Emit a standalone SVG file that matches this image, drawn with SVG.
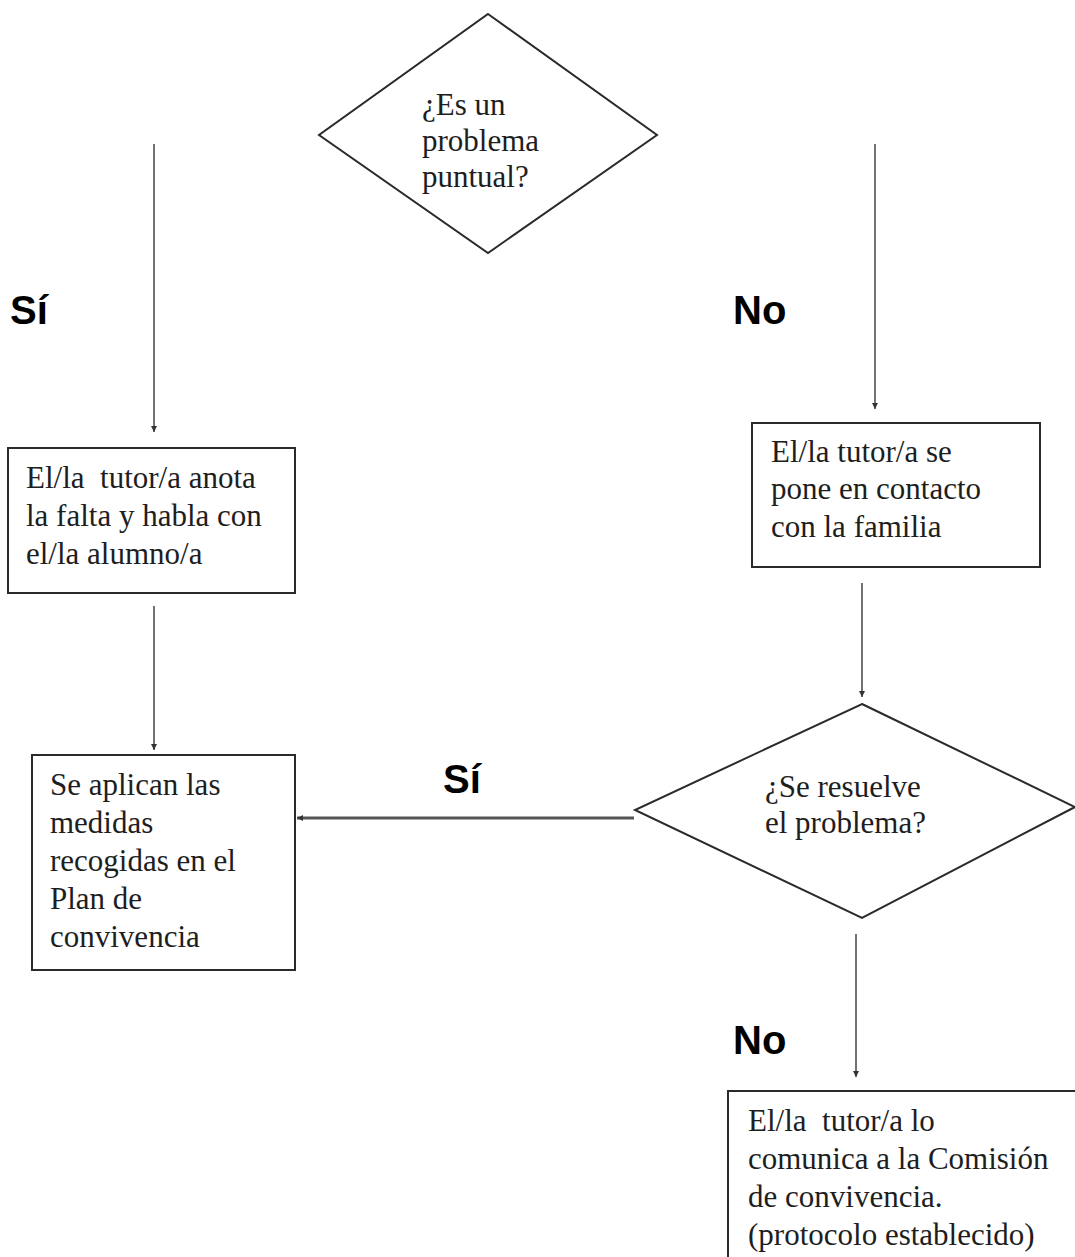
<svg xmlns="http://www.w3.org/2000/svg" width="1075" height="1257" viewBox="0 0 1075 1257">
<style>
.shape{fill:#fff;stroke:#2a2a2a;stroke-width:2}
.t{font-family:"Liberation Serif","Times New Roman",serif;font-size:31px;fill:#1e1e1e;white-space:pre}
.lbl{font-family:"Liberation Sans",Arial,sans-serif;font-size:40px;font-weight:bold;fill:#000}
.conn{stroke:#444;stroke-width:1.5;fill:none}
.thick{stroke:#555;stroke-width:3;fill:none}
</style>
<defs>
<marker id="ah" viewBox="0 0 10 10" refX="10" refY="5" markerWidth="10" markerHeight="6" markerUnits="userSpaceOnUse" orient="auto">
<path d="M0,0 L10,5 L0,10 z" fill="#333"/>
</marker>
</defs>
<rect width="1075" height="1257" fill="#fff"/>
<g id="connectors">
<line class="conn" x1="154" y1="144" x2="154" y2="432" marker-end="url(#ah)"/>
<line class="conn" x1="875" y1="144" x2="875" y2="409" marker-end="url(#ah)"/>
<line class="conn" x1="154" y1="606" x2="154" y2="750" marker-end="url(#ah)"/>
<line class="conn" x1="862" y1="583" x2="862" y2="697" marker-end="url(#ah)"/>
<line class="thick" x1="634" y1="818" x2="297" y2="818" marker-end="url(#ah)"/>
<line class="conn" x1="856" y1="934" x2="856" y2="1077" marker-end="url(#ah)"/>
</g>
<g id="labels">
<text class="lbl" x="10" y="324">Sí</text>
<text class="lbl" x="733" y="324">No</text>
<text class="lbl" x="443" y="793">Sí</text>
<text class="lbl" x="733" y="1054">No</text>
</g>
<g id="d1">
<polygon class="shape" points="488,14 657,135 488,253 319,135"/>
<text class="t" x="422" y="115">¿Es un</text>
<text class="t" x="422" y="151">problema</text>
<text class="t" x="422" y="187">puntual?</text>
</g>
<g id="b1">
<rect class="shape" x="8" y="448" width="287" height="145"/>
<text class="t" x="26" y="488" xml:space="preserve">El/la  tutor/a anota</text>
<text class="t" x="26" y="526">la falta y habla con</text>
<text class="t" x="26" y="564">el/la alumno/a</text>
</g>
<g id="b2">
<rect class="shape" x="752" y="423" width="288" height="144"/>
<text class="t" x="771" y="462">El/la tutor/a se</text>
<text class="t" x="771" y="499">pone en contacto</text>
<text class="t" x="771" y="537">con la familia</text>
</g>
<g id="b3">
<rect class="shape" x="32" y="755" width="263" height="215"/>
<text class="t" x="50" y="795">Se aplican las</text>
<text class="t" x="50" y="833">medidas</text>
<text class="t" x="50" y="871">recogidas en el</text>
<text class="t" x="50" y="909">Plan de</text>
<text class="t" x="50" y="947">convivencia</text>
</g>
<g id="d2">
<polygon class="shape" points="862,704 1075,807 862,918 635,810"/>
<text class="t" x="765" y="797">¿Se resuelve</text>
<text class="t" x="765" y="833">el problema?</text>
</g>
<g id="b4">
<rect class="shape" x="728" y="1091" width="360" height="180"/>
<text class="t" x="748" y="1131" xml:space="preserve">El/la  tutor/a lo</text>
<text class="t" x="748" y="1169">comunica a la Comisión</text>
<text class="t" x="748" y="1207">de convivencia.</text>
<text class="t" x="748" y="1245">(protocolo establecido)</text>
</g>
</svg>
